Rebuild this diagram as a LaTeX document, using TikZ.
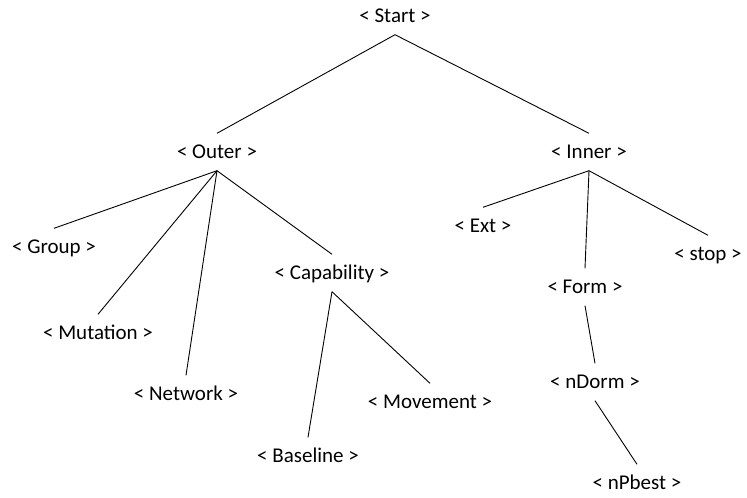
\documentclass[tikz,border=0pt]{standalone}
\usepackage{fontspec}
\setmainfont{Carlito}
\begin{document}
\begin{tikzpicture}[x=1pt,y=-1pt,
  lbl/.style={font=\fontsize{21}{24}\selectfont, text height=15pt, text depth=3pt, inner xsep=0pt, inner ysep=9.5pt, anchor=center},
  edge/.style={line width=0.9pt, black}]
\useasboundingbox (0,0) rectangle (747,498);
\node[lbl] (start) at (395,16) {< Start >};
\node[lbl] (outer) at (217,152) {< Outer >};
\node[lbl] (inner) at (589,152) {< Inner >};
\node[lbl] (group) at (54,247) {< Group >};
\node[lbl] (mutation) at (98,333) {< Mutation >};
\node[lbl] (network) at (186,394) {< Network >};
\node[lbl] (capability) at (332,273) {< Capability >};
\node[lbl] (baseline) at (308,456) {< Baseline >};
\node[lbl] (movement) at (430,402) {< Movement >};
\node[lbl] (ext) at (483,226) {< Ext >};
\node[lbl] (stop) at (708,254) {< stop >};
\node[lbl] (form) at (585,287) {< Form >};
\node[lbl] (ndorm) at (595,382) {< nDorm >};
\node[lbl] (npbest) at (637,483) {< nPbest >};
\draw[edge] (start.south) -- (outer.north);
\draw[edge] (start.south) -- (inner.north);
\draw[edge] (outer.south) -- (group.north);
\draw[edge] (outer.south) -- (mutation.north);
\draw[edge] (outer.south) -- (network.north);
\draw[edge] (outer.south) -- (capability.north);
\draw[edge] (capability.south) -- (baseline.north);
\draw[edge] (capability.south) -- (movement.north);
\draw[edge] (inner.south) -- (ext.north);
\draw[edge] (inner.south) -- (form.north);
\draw[edge] (inner.south) -- (stop.north);
\draw[edge] (form.south) -- (ndorm.north);
\draw[edge] (ndorm.south) -- (npbest.north);
\end{tikzpicture}
\end{document}
